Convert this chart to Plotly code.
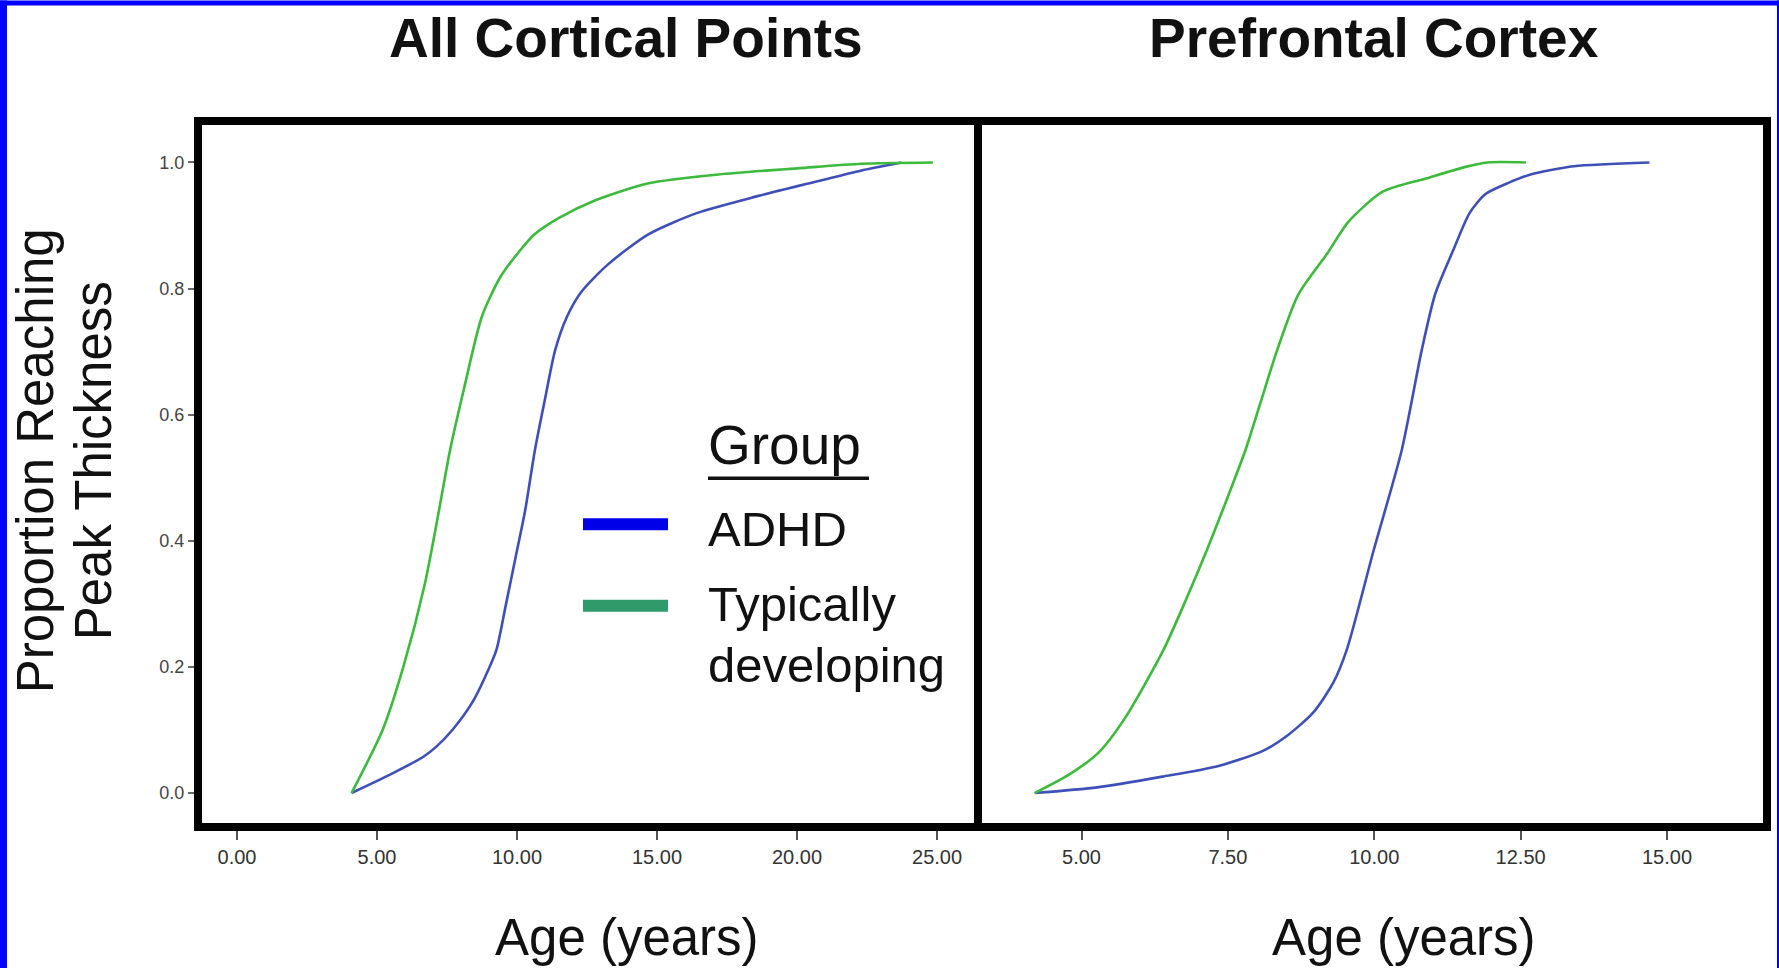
import plotly.graph_objects as go

# ---------------- data ----------------
# Panel 1: All Cortical Points
all_adhd_age = [4.09, 5.5, 6.67, 7.13, 7.69, 8.42, 9.0, 9.27, 9.6, 9.95, 10.29, 10.64,
                11.0, 11.36, 11.78, 12.3, 13.24, 14.69, 16.44, 18.63, 20.81, 22.27, 23.73]
all_adhd_prop = [0.0, 0.03, 0.058, 0.074, 0.1, 0.145, 0.198, 0.228, 0.298, 0.374, 0.448, 0.544,
                 0.625, 0.702, 0.755, 0.795, 0.838, 0.886, 0.92, 0.947, 0.971, 0.987, 1.0]
all_td_age = [4.09, 5.2, 5.94, 6.71, 7.2, 7.61, 8.1, 8.74, 9.4, 10.1, 10.6, 11.5,
              12.8, 14.7, 17.2, 20.1, 22.3, 24.85]
all_td_prop = [0.0, 0.10, 0.20, 0.332, 0.445, 0.544, 0.64, 0.755, 0.818, 0.86, 0.885, 0.912,
               0.94, 0.967, 0.981, 0.991, 0.998, 1.0]

# Panel 2: Prefrontal Cortex
pfc_adhd_age = [4.2, 5.27, 6.38, 7.34, 8.08, 8.5, 8.96, 9.3, 9.53, 9.99, 10.47, 10.81,
                11.04, 11.35, 11.63, 11.9, 12.3, 12.67, 13.41, 14.7]
pfc_adhd_prop = [0.0, 0.009, 0.026, 0.043, 0.066, 0.09, 0.128, 0.175, 0.227, 0.385, 0.544, 0.702,
                 0.791, 0.861, 0.92, 0.95, 0.968, 0.981, 0.994, 1.0]
pfc_td_age = [4.2, 4.8, 5.3, 5.75, 6.4, 6.8, 7.14, 7.5, 7.8, 8.05, 8.34, 8.7,
              9.2, 9.56, 10.15, 10.9, 11.56, 11.93, 12.59]
pfc_td_prop = [0.0, 0.03, 0.065, 0.12, 0.227, 0.31, 0.385, 0.47, 0.544, 0.617, 0.702, 0.79,
               0.856, 0.906, 0.954, 0.975, 0.993, 1.0, 1.0]

panel_titles = ["All Cortical Points", "Prefrontal Cortex"]
legend_title = "Group"
group_names = ["ADHD", "Typically<br>developing"]
x_title = "Age (years)"
y_title_lines = ["Proportion Reaching", "Peak Thickness"]
x_ticks_all = [0, 5, 10, 15, 20, 25]
x_ticks_pfc = [5, 7.5, 10, 12.5, 15]
y_ticks = [0.0, 0.2, 0.4, 0.6, 0.8, 1.0]

curve_colors = ["#3e50b8", "#3cba3c"]
legend_colors = ["#0000e8", "#2f9a6a"]

# ---------------- layout geometry (pixels) ----------------
W, H = 1779, 968
L, R, T, B = 202, 1763, 124.5, 823
MID_L, MID_R = 974, 982
FONT = "Liberation Sans, Arial, sans-serif"


def px(x):
    return (x - L) / (R - L)


def py(y):
    return (B - y) / (B - T)


fig = go.Figure()

panels = [
    ("x", "y", all_adhd_age, all_adhd_prop, all_td_age, all_td_prop),
    ("x2", "y2", pfc_adhd_age, pfc_adhd_prop, pfc_td_age, pfc_td_prop),
]
for xa, ya, a_age, a_prop, t_age, t_prop in panels:
    for nm, ages, props, col in [(group_names[0], a_age, a_prop, curve_colors[0]),
                                 (group_names[1], t_age, t_prop, curve_colors[1])]:
        fig.add_trace(go.Scatter(x=ages, y=props, mode="lines", xaxis=xa, yaxis=ya,
                                 name=nm.replace("<br>", " "),
                                 line=dict(color=col, width=2.6, shape="spline", smoothing=0.7),
                                 showlegend=False, hoverinfo="skip"))

axis_common = dict(showline=True, linewidth=8, linecolor="#000000", mirror=True,
                   showgrid=False, zeroline=False, fixedrange=True)

fig.update_layout(
    width=W, height=H,
    margin=dict(l=L, r=W - R, t=T, b=H - B, autoexpand=False),
    paper_bgcolor="white", plot_bgcolor="white",
    font=dict(family=FONT, color="#111111"),
    showlegend=False,
    xaxis=dict(domain=[0, px(MID_L)], range=[-1.25, 26.32], tickvals=x_ticks_all,
               tickformat=".2f", ticks="outside", ticklen=9, tickwidth=2, tickcolor="#555555",
               tickfont=dict(family=FONT, size=20, color="#333333"), anchor="y", **axis_common),
    xaxis2=dict(domain=[px(MID_R), 1], range=[3.30, 16.64], tickvals=x_ticks_pfc,
                tickformat=".2f", ticks="outside", ticklen=9, tickwidth=2, tickcolor="#555555",
                tickfont=dict(family=FONT, size=20, color="#333333"), anchor="y2", **axis_common),
    yaxis=dict(domain=[0, 1], range=[-0.0475, 1.0594], tickvals=y_ticks, tickformat=".1f",
               ticks="outside", ticklen=6, tickwidth=2, tickcolor="#666666",
               tickfont=dict(family=FONT, size=18, color="#444444"), anchor="x", **axis_common),
    yaxis2=dict(domain=[0, 1], range=[-0.0475, 1.0594], showticklabels=False, ticks="",
                anchor="x2", **axis_common),
)

ann = []
for title, cx in zip(panel_titles, [626, 1374]):
    ann.append(dict(text="<b>" + title + "</b>", x=px(cx), y=py(37), xref="paper", yref="paper",
                    xanchor="center", yanchor="middle", showarrow=False,
                    font=dict(family=FONT, size=55, color="#111111")))
for cx in [627, 1404]:
    ann.append(dict(text=x_title, x=px(cx), y=py(938), xref="paper", yref="paper",
                    xanchor="center", yanchor="middle", showarrow=False,
                    font=dict(family=FONT, size=51, color="#111111")))
for line, cx in zip(y_title_lines, [35, 93]):
    ann.append(dict(text=line, x=px(cx), y=py(461), xref="paper", yref="paper",
                    xanchor="center", yanchor="middle", showarrow=False, textangle=-90,
                    font=dict(family=FONT, size=51, color="#111111")))

# ---- legend (drawn as guide, colours per group) ----
LEG_TEXT_X = 706
LEG_SW_X0, LEG_SW_X1 = 583, 668
ann.append(dict(text=legend_title, x=px(LEG_TEXT_X), y=py(445), xref="paper", yref="paper",
                xanchor="left", yanchor="middle", showarrow=False,
                font=dict(family=FONT, size=55, color="#111111")))
shapes = [dict(type="line", xref="paper", yref="paper", x0=px(708), x1=px(869),
               y0=py(478), y1=py(478), line=dict(color="#111111", width=3.5))]
row_swatch_y = [524, 605.5]
row_text_y = [[529], [603.5, 665]]
for name, col, sy, tys in zip(group_names, legend_colors, row_swatch_y, row_text_y):
    shapes.append(dict(type="line", xref="paper", yref="paper", x0=px(LEG_SW_X0), x1=px(LEG_SW_X1),
                       y0=py(sy), y1=py(sy), line=dict(color=col, width=12)))
    for part, ty in zip(name.split("<br>"), tys):
        ann.append(dict(text=part, x=px(LEG_TEXT_X), y=py(ty), xref="paper", yref="paper",
                        xanchor="left", yanchor="middle", showarrow=False,
                        font=dict(family=FONT, size=49, color="#111111")))

# blue slide border
border = "#0000ff"
shapes += [
    dict(type="rect", xref="paper", yref="paper", x0=px(0), x1=px(7), y0=py(H), y1=py(0),
         fillcolor=border, line=dict(width=0)),
    dict(type="rect", xref="paper", yref="paper", x0=px(0), x1=px(W), y0=py(5), y1=py(0),
         fillcolor=border, line=dict(width=0)),
    dict(type="rect", xref="paper", yref="paper", x0=px(1777), x1=px(W), y0=py(H), y1=py(0),
         fillcolor=border, line=dict(width=0)),
]
fig.update_layout(annotations=ann, shapes=shapes)

fig.write_html("out.html", config={"displayModeBar": False})
